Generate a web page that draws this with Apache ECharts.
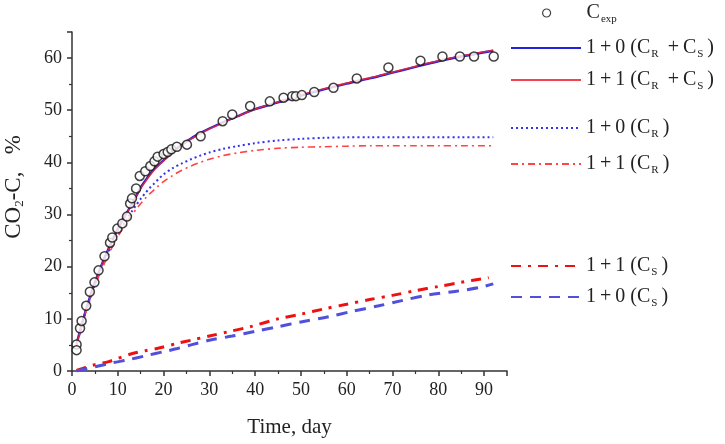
<!DOCTYPE html>
<html>
<head>
<meta charset="utf-8">
<script src="https://cdn.jsdelivr.net/npm/echarts@6/dist/echarts.min.js"></script>
<style>html,body{margin:0;padding:0;background:#fff}#c{width:725px;height:444px}</style>
</head>
<body>
<div id="c"></div>
<script>
// ---- data ----
const expDays = [1.0,1.0,1.75,2.1,3.1,3.9,4.9,5.8,7.1,8.3,8.8,9.9,11.0,12.0,12.7,13.1,14.0,14.8,16.0,17.1,18.0,18.7,20.0,20.9,21.7,22.9,25.1,28.1,32.9,35.0,38.9,43.2,46.2,48.1,48.9,50.2,52.9,57.1,62.2,69.1,76.1,80.9,84.7,87.8,92.1];
const expVals = [5.1,4.0,8.2,9.6,12.5,15.2,17.0,19.3,22.0,24.6,25.6,27.3,28.3,29.6,32.1,33.1,35.0,37.4,38.3,39.3,40.2,41.1,41.6,42.0,42.5,43.0,43.4,45.0,47.9,49.2,50.8,51.7,52.4,52.7,52.7,52.9,53.5,54.3,56.1,58.2,59.5,60.3,60.3,60.3,60.3];

const modelDays = [1,2,3,4,5,6,7,8,9,10,11,12,13,14,15,16,17,18,19,20,22,24,26,28,30,33,36,40,45,50,55,60,65,70,75,80,85,92];
const total10 = [5.2,8.5,11.6,14.4,17.0,19.3,21.5,23.5,25.4,27.2,28.9,30.4,31.9,33.5,35.2,36.5,37.7,38.8,39.6,40.4,42.0,43.4,44.6,45.6,46.5,47.7,48.8,50.2,51.5,52.8,54.0,55.1,56.1,57.2,58.3,59.4,60.3,61.4];
const total11 = [5.1,8.4,11.5,14.3,16.9,19.2,21.4,23.4,25.3,27.1,28.8,30.3,31.8,33.4,35.0,36.3,37.5,38.6,39.5,40.3,41.9,43.3,44.5,45.5,46.4,47.6,48.8,50.2,51.6,52.9,54.1,55.2,56.2,57.3,58.4,59.5,60.4,61.5];
const cr10 = [4.9,8.3,11.4,14.1,16.6,18.8,20.9,22.8,24.6,26.3,27.8,29.2,30.5,31.8,33.0,34.1,35.1,36.0,36.9,37.7,38.9,39.8,40.6,41.3,41.9,42.6,43.1,43.7,44.2,44.5,44.7,44.8,44.8,44.8,44.8,44.8,44.8,44.8];
const cr11 = [4.8,8.1,11.1,13.8,16.3,18.5,20.5,22.4,24.1,25.7,27.2,28.6,29.9,31.0,32.1,33.1,34.0,34.8,35.6,36.3,37.5,38.5,39.3,40.0,40.6,41.3,41.8,42.3,42.7,42.9,43.0,43.1,43.2,43.2,43.2,43.2,43.2,43.2];

const cs11Days = [1,3,5,8,10,13,16,19,23,26,30,34,39,45,50,55,60,65,70,75,80,85,91];
const cs11Vals = [0.1,0.7,1.2,1.8,2.4,3.3,3.9,4.4,5.3,5.9,6.7,7.5,8.5,10.0,10.9,11.9,12.8,13.7,14.5,15.4,16.2,17.0,17.9];
const cs10Days = [1,3,5,9,12,16,20,23,26,30,35,40,45,50,56,61,67,72,78,84,89,92];
const cs10Vals = [0.0,0.4,0.8,1.6,2.1,2.9,3.7,4.3,5.0,5.9,6.7,7.6,8.5,9.4,10.4,11.4,12.5,13.5,14.6,15.3,16.0,16.7];

const xTicks = [0,10,20,30,40,50,60,70,80,90];
const yTicks = [0,10,20,30,40,50,60];

const seriesNames = ['Cexp','1+0 (CR+CS)','1+1 (CR+CS)','1+0 (CR)','1+1 (CR)','1+1 (CS)','1+0 (CS)'];
const T = '\u2009';
const legendLabels = {
  'Cexp': '{n|C}{s|exp}',
  '1+0 (CR+CS)': '{n|1' + T + '+' + T + '0 (C}{s|R}{n|' + T + ' +' + T + 'C}{s|S}{n|' + T + ')}',
  '1+1 (CR+CS)': '{n|1' + T + '+' + T + '1 (C}{s|R}{n|' + T + ' +' + T + 'C}{s|S}{n|' + T + ')}',
  '1+0 (CR)': '{n|1' + T + '+' + T + '0 (C}{s|R}{n|' + T + ')}',
  '1+1 (CR)': '{n|1' + T + '+' + T + '1 (C}{s|R}{n|' + T + ')}',
  '1+1 (CS)': '{n|1' + T + '+' + T + '1 (C}{s|S}{n|' + T + ')}',
  '1+0 (CS)': '{n|1' + T + '+' + T + '0 (C}{s|S}{n|' + T + ')}'
};

const zip = (a, b) => a.map((v, i) => [v, b[i]]);
const FONT = 'Liberation Serif, Times New Roman, serif';
const rich = {
  n: {fontFamily: FONT, fontSize: 20, color: '#222'},
  s: {fontFamily: FONT, fontSize: 11, color: '#222', verticalAlign: 'bottom', padding: [13, 0, 0, 1]}
};

const legendRows = [15, 50, 82, 130, 166, 268, 299];
const legends = seriesNames.map((nm, i) => {
  const isExp = i === 0;
  return {
    data: [nm],
    left: isExp ? 542 : 510,
    top: legendRows[i] - 12,
    padding: 0,
    orient: 'vertical',
    itemWidth: isExp ? 8 : 70,
    itemHeight: isExp ? 8 : 14,
    itemGap: 0,
    selectedMode: false,
    itemStyle: isExp ? {color: '#fff', borderColor: '#111', borderWidth: 1.2} : {opacity: 0},
    formatter: (name) => legendLabels[name],
    textStyle: {rich: rich, fontFamily: FONT, fontSize: 20, color: '#222', padding: isExp ? [0, 0, 0, 31] : 0}
  };
});

const chart = echarts.init(document.getElementById('c'), null, {renderer: 'canvas'});
chart.setOption({
  animation: false,
  backgroundColor: '#fff',
  grid: {left: 72, right: 218, top: 32, bottom: 73, containLabel: false},
  legend: legends,
  xAxis: {
    type: 'value', min: 0, max: 95, interval: 10,
    name: 'Time, day', nameLocation: 'middle', nameGap: 46,
    nameTextStyle: {fontFamily: FONT, fontSize: 21, color: '#222'},
    axisLine: {show: true, lineStyle: {color: '#333', width: 1.5}},
    axisTick: {show: true, inside: false, length: 5, lineStyle: {color: '#333', width: 1.5}},
    minorTick: {show: true, splitNumber: 2, length: 3, lineStyle: {color: '#333', width: 1.2}},
    axisLabel: {fontFamily: FONT, fontSize: 18, color: '#222', margin: 10, showMaxLabel: false,
      formatter: v => xTicks.includes(v) ? String(v) : ''},
    splitLine: {show: false}
  },
  yAxis: {
    type: 'value', min: 0, max: 65, interval: 10,
    axisLine: {show: true, lineStyle: {color: '#333', width: 1.5}},
    axisTick: {show: true, inside: false, length: 5, lineStyle: {color: '#333', width: 1.5}},
    minorTick: {show: true, splitNumber: 2, length: 3, lineStyle: {color: '#333', width: 1.2}},
    axisLabel: {fontFamily: FONT, fontSize: 18, color: '#222', margin: 10, showMaxLabel: false,
      formatter: v => yTicks.includes(v) ? String(v) : ''},
    splitLine: {show: false}
  },
  graphic: [{
    type: 'text', x: 14, y: 187, rotation: Math.PI / 2,
    style: {text: '{n|CO}{s|2}{n|-C,   %}', rich: {
      n: {fontFamily: FONT, fontSize: 23, fill: '#222'},
      s: {fontFamily: FONT, fontSize: 13, fill: '#222', verticalAlign: 'bottom', padding: [12, 0, 0, 0]}
    }, align: 'center', verticalAlign: 'middle'}
  }],
  series: [
    {name: seriesNames[0], type: 'scatter', z: 10, symbol: 'circle', symbolSize: 9,
     itemStyle: {color: '#fff', borderColor: '#111', borderWidth: 1.5},
     data: zip(expDays, expVals)},
    {name: seriesNames[1], type: 'line', symbol: 'none', smooth: 0.3, data: zip(modelDays, total10),
     lineStyle: {color: '#2222dd', width: 2.4, type: 'solid'}, itemStyle: {color: '#2222dd'}},
    {name: seriesNames[2], type: 'line', symbol: 'none', smooth: 0.3, data: zip(modelDays, total11),
     lineStyle: {color: '#ee2233', width: 1.6, type: 'solid', opacity: 0.85}, itemStyle: {color: '#ee2233'}},
    {name: seriesNames[3], type: 'line', symbol: 'none', smooth: 0.3, data: zip(modelDays, cr10),
     lineStyle: {color: '#3333ee', width: 2, type: [2, 3]}, itemStyle: {color: '#3333ee'}},
    {name: seriesNames[4], type: 'line', symbol: 'none', smooth: 0.3, data: zip(modelDays, cr11),
     lineStyle: {color: '#ff4444', width: 1.6, type: [7, 4, 2, 4]}, itemStyle: {color: '#ff4444'}},
    {name: seriesNames[5], type: 'line', symbol: 'none', smooth: 0.3, data: zip(cs11Days, cs11Vals),
     lineStyle: {color: '#ee1111', width: 3, type: [10, 7, 3, 7]}, itemStyle: {color: '#ee1111'}},
    {name: seriesNames[6], type: 'line', symbol: 'none', smooth: 0.3, data: zip(cs10Days, cs10Vals),
     lineStyle: {color: '#5050dd', width: 3, type: [11, 8]}, itemStyle: {color: '#5050dd'}}
  ]
});
</script>
</body>
</html>
